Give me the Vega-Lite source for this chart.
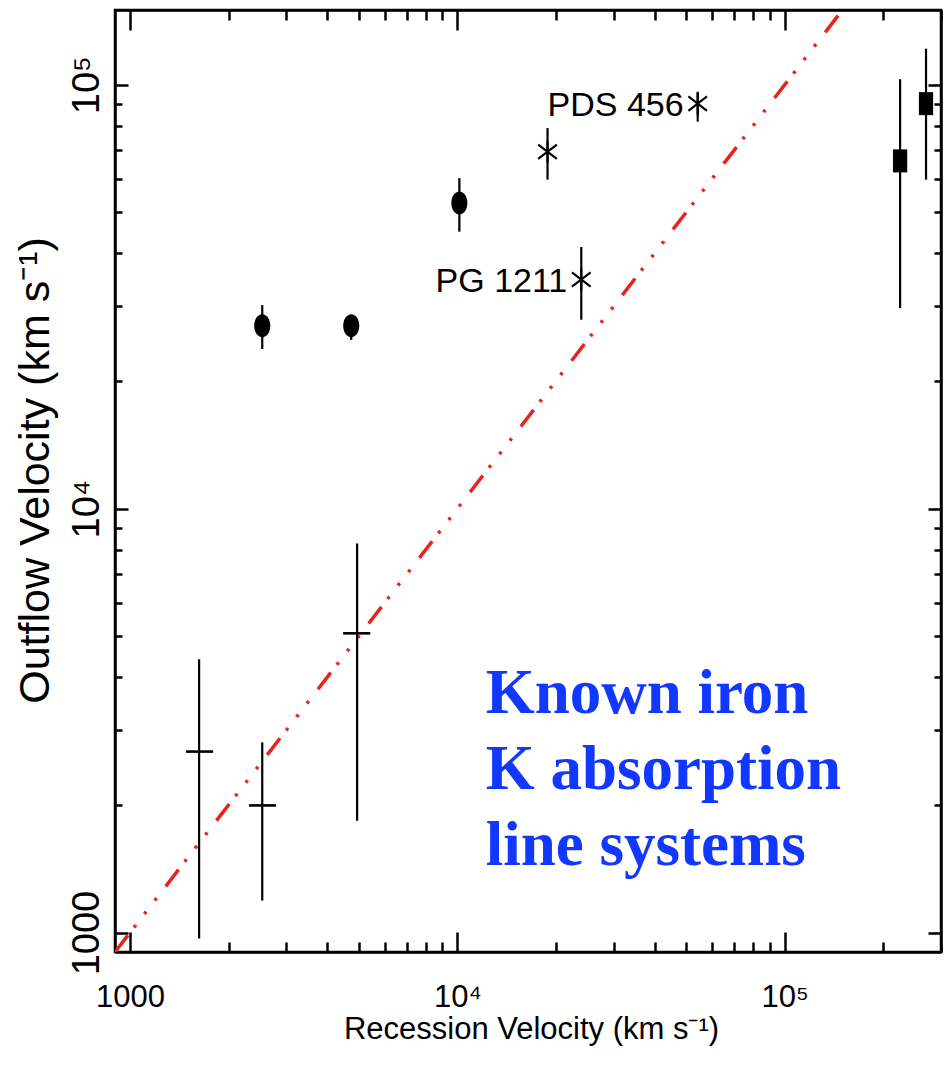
{
  "$schema": "https://vega.github.io/schema/vega-lite/v6.json",
  "width": 826,
  "height": 942,
  "autosize": {"type": "none"},
  "padding": {"left": 115, "top": 10, "right": 5, "bottom": 113},
  "background": "white",
  "config": {
    "view": {"stroke": "black", "strokeWidth": 2.5},
    "axis": {"grid": false, "domainColor": "black", "domainWidth": 2.5, "tickColor": "black", "tickWidth": 2.5, "labelColor": "black", "titleColor": "black", "labelOverlap": false, "labelFlush": false, "labelBound": false, "titleFontWeight": "normal"}
  },
  "datasets": {
    "pts": [
      {"x": 2535, "y": 27000, "ylo": 23800, "yhi": 30200, "type": "circle"},
      {"x": 4740, "y": 27000, "ylo": 25000, "yhi": 28600, "type": "circle"},
      {"x": 10140, "y": 52600, "ylo": 45000, "yhi": 60200, "type": "circle"},
      {"x": 18850, "y": 69500, "ylo": 59700, "yhi": 79000, "type": "star"},
      {"x": 23900, "y": 34700, "ylo": 27900, "yhi": 41400, "type": "star", "label": "PG 1211"},
      {"x": 54200, "y": 90200, "ylo": 81800, "yhi": 96200, "type": "star", "label": "PDS 456"},
      {"x": 225000, "y": 66100, "ylo": 29700, "yhi": 103000, "type": "square"},
      {"x": 270000, "y": 90200, "ylo": 59700, "yhi": 121600, "type": "square"},
      {"x": 1626, "y": 2673, "ylo": 968, "yhi": 4416, "xlo": 1483, "xhi": 1795, "type": "cross"},
      {"x": 2535, "y": 1995, "ylo": 1190, "yhi": 2810, "xlo": 2311, "xhi": 2794, "type": "cross"},
      {"x": 4940, "y": 5080, "ylo": 1837, "yhi": 8280, "xlo": 4478, "xhi": 5420, "type": "cross"}
    ],
    "oneToOne": [{"v": 900}, {"v": 150000}],
    "note": [
      {"t": "Known iron", "x": 12200, "y": 3290},
      {"t": "K absorption", "x": 12200, "y": 2178},
      {"t": "line systems", "x": 12200, "y": 1447}
    ]
  },
  "resolve": {"axis": {"x": "independent", "y": "independent"}},
  "layer": [
    {
      "data": {"name": "oneToOne"},
      "mark": {"type": "line", "color": "#e8231a", "strokeWidth": 3.5, "strokeDash": [21, 10, 3, 14, 3, 14, 3, 15], "clip": true},
      "encoding": {
        "x": {"field": "v", "type": "quantitative", "scale": {"type": "log", "domain": [900, 300000], "nice": false, "zero": false},
          "axis": {"orient": "bottom", "values": [1000,2000,3000,4000,5000,6000,7000,8000,9000,10000,20000,30000,40000,50000,60000,70000,80000,90000,100000,200000,300000],
            "tickSize": {"condition": {"test": "indexof([1000,10000,100000], datum.value) >= 0", "value": -20}, "value": -10},
            "labelExpr": "datum.value == 1000 ? '1000' : datum.value == 10000 ? '10⁴' : datum.value == 100000 ? '10⁵' : ''",
            "labelFont": "Liberation Sans", "labelFontSize": 31, "labelBaseline": "alphabetic", "labelPadding": 74,
            "title": "Recession Velocity (km s⁻¹)", "titleFont": "Liberation Sans", "titleFontSize": 31, "titleBaseline": "alphabetic", "titleX": 416, "titleY": 86, "titleAlign": "center"}},
        "y": {"field": "v", "type": "quantitative", "scale": {"type": "log", "domain": [900, 150000], "nice": false, "zero": false},
          "axis": {"orient": "left", "values": [1000,2000,3000,4000,5000,6000,7000,8000,9000,10000,20000,30000,40000,50000,60000,70000,80000,90000,100000],
            "tickSize": {"condition": {"test": "indexof([1000,10000,100000], datum.value) >= 0", "value": -13}, "value": -7},
            "labelExpr": "datum.value == 1000 ? '1000' : datum.value == 10000 ? '10⁴' : datum.value == 100000 ? '10⁵' : ''",
            "labelFont": "Liberation Sans", "labelFontSize": 38, "labelAngle": 270, "labelAlign": "center", "labelBaseline": "alphabetic", "labelPadding": 30,
            "title": "Outflow Velocity (km s⁻¹)", "titleFont": "Liberation Sans", "titleFontSize": 43, "titleAngle": 270, "titleBaseline": "alphabetic", "titleAlign": "center", "titleX": -67, "titleY": 460}}
      }
    },
    {
      "data": {"name": "pts"},
      "mark": {"type": "rule", "color": "black", "strokeWidth": 2.2},
      "encoding": {
        "x": {"field": "x", "type": "quantitative", "scale": {"type": "log", "domain": [900, 300000], "nice": false, "zero": false},
          "axis": {"orient": "top", "values": [1000,2000,3000,4000,5000,6000,7000,8000,9000,10000,20000,30000,40000,50000,60000,70000,80000,90000,100000,200000,300000],
            "tickSize": {"condition": {"test": "indexof([1000,10000,100000], datum.value) >= 0", "value": -20}, "value": -10},
            "labels": false, "title": null}},
        "y": {"field": "ylo", "type": "quantitative", "scale": {"type": "log", "domain": [900, 150000], "nice": false, "zero": false},
          "axis": {"orient": "right", "values": [1000,2000,3000,4000,5000,6000,7000,8000,9000,10000,20000,30000,40000,50000,60000,70000,80000,90000,100000],
            "tickSize": {"condition": {"test": "indexof([1000,10000,100000], datum.value) >= 0", "value": -13}, "value": -7},
            "labels": false, "title": null}},
        "y2": {"field": "yhi"}
      }
    },
    {
      "data": {"name": "pts"},
      "transform": [{"filter": "datum.type == 'cross'"}],
      "mark": {"type": "rule", "color": "black", "strokeWidth": 2.6},
      "encoding": {
        "x": {"field": "xlo", "type": "quantitative", "scale": {"type": "log", "domain": [900, 300000], "nice": false, "zero": false}, "axis": null},
        "x2": {"field": "xhi"},
        "y": {"field": "y", "type": "quantitative", "scale": {"type": "log", "domain": [900, 150000], "nice": false, "zero": false}, "axis": null}
      }
    },
    {
      "data": {"name": "pts"},
      "transform": [{"filter": "datum.type == 'circle'"}],
      "mark": {"type": "point", "shape": "M0,-1 A0.7,1 0 1,1 0,1 A0.7,1 0 1,1 0,-1 Z", "size": 529, "filled": true, "color": "black", "opacity": 1, "strokeWidth": 0},
      "encoding": {
        "x": {"field": "x", "type": "quantitative", "scale": {"type": "log", "domain": [900, 300000], "nice": false, "zero": false}, "axis": null},
        "y": {"field": "y", "type": "quantitative", "scale": {"type": "log", "domain": [900, 150000], "nice": false, "zero": false}, "axis": null}
      }
    },
    {
      "data": {"name": "pts"},
      "transform": [{"filter": "datum.type == 'square'"}],
      "mark": {"type": "point", "shape": "M-0.62,-1 L0.62,-1 L0.62,1 L-0.62,1 Z", "size": 529, "filled": true, "color": "black", "opacity": 1, "strokeWidth": 0},
      "encoding": {
        "x": {"field": "x", "type": "quantitative", "scale": {"type": "log", "domain": [900, 300000], "nice": false, "zero": false}, "axis": null},
        "y": {"field": "y", "type": "quantitative", "scale": {"type": "log", "domain": [900, 150000], "nice": false, "zero": false}, "axis": null}
      }
    },
    {
      "data": {"name": "pts"},
      "transform": [{"filter": "datum.type == 'star'"}],
      "mark": {"type": "point", "shape": "M-0.85,-0.65 L0.85,0.65 M-0.85,0.65 L0.85,-0.65 M0,-1 L0,1", "size": 484, "filled": false, "stroke": "black", "strokeWidth": 2.2, "opacity": 1},
      "encoding": {
        "x": {"field": "x", "type": "quantitative", "scale": {"type": "log", "domain": [900, 300000], "nice": false, "zero": false}, "axis": null},
        "y": {"field": "y", "type": "quantitative", "scale": {"type": "log", "domain": [900, 150000], "nice": false, "zero": false}, "axis": null}
      }
    },
    {
      "data": {"name": "pts"},
      "transform": [{"filter": "datum.label != null"}],
      "mark": {"type": "text", "align": "right", "baseline": "alphabetic", "dx": -14, "dy": 12, "font": "Liberation Sans", "fontSize": 34, "color": "black"},
      "encoding": {
        "x": {"field": "x", "type": "quantitative", "scale": {"type": "log", "domain": [900, 300000], "nice": false, "zero": false}, "axis": null},
        "y": {"field": "y", "type": "quantitative", "scale": {"type": "log", "domain": [900, 150000], "nice": false, "zero": false}, "axis": null},
        "text": {"field": "label"}
      }
    },
    {
      "data": {"name": "note"},
      "mark": {"type": "text", "align": "left", "baseline": "alphabetic", "font": "Liberation Serif", "fontWeight": "bold", "fontSize": 63, "color": "#1238ff"},
      "encoding": {
        "x": {"field": "x", "type": "quantitative", "scale": {"type": "log", "domain": [900, 300000], "nice": false, "zero": false}, "axis": null},
        "y": {"field": "y", "type": "quantitative", "scale": {"type": "log", "domain": [900, 150000], "nice": false, "zero": false}, "axis": null},
        "text": {"field": "t"}
      }
    }
  ]
}
